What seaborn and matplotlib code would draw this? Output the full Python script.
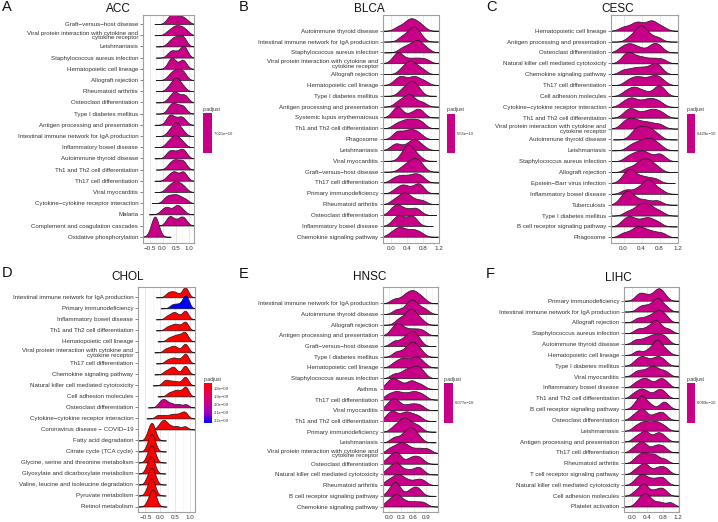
import numpy as np
import matplotlib
matplotlib.use("Agg")
import matplotlib.pyplot as plt
from matplotlib.colors import LinearSegmentedColormap, ListedColormap, Normalize
from matplotlib.cm import ScalarMappable
import seaborn as sns

# ---------------- data (core-gene values per pathway) ----------------
acc_terms = ["Graft−versus−host disease",
             "Viral protein interaction with cytokine and\ncytokine receptor",
             "Leishmaniasis", "Staphylococcus aureus infection", "Hematopoietic cell lineage",
             "Allograft rejection", "Rheumatoid arthritis", "Osteoclast differentiation",
             "Type I diabetes mellitus", "Antigen processing and presentation",
             "Intestinal immune network for IgA production", "Inflammatory bowel disease",
             "Autoimmune thyroid disease", "Th1 and Th2 cell differentiation",
             "Th17 cell differentiation", "Viral myocarditis",
             "Cytokine−cytokine receptor interaction", "Malaria",
             "Complement and coagulation cascades", "Oxidative phosphorylation"]
acc_values = [[0.25, 0.35, 0.4, 0.45, 0.55, 0.65, 0.75, 0.8, 0.95],
              [0.25, 0.4, 0.5, 0.55, 0.65, 0.75, 0.8, 0.95],
              [0.3, 0.45, 0.52, 0.6, 0.75, 0.8, 0.85],
              [0.3, 0.4, 0.5, 0.65, 0.78, 0.82, 0.85, 0.9],
              [0.3, 0.38, 0.42, 0.5, 0.72, 0.8, 0.85],
              [0.3, 0.45, 0.5, 0.6, 0.7, 0.78, 0.85],
              [0.3, 0.45, 0.52, 0.58, 0.65, 0.8],
              [0.3, 0.45, 0.5, 0.55, 0.7, 0.85, 0.9],
              [0.3, 0.38, 0.45, 0.55, 0.65, 0.78, 0.85],
              [0.25, 0.32, 0.38, 0.5, 0.65, 0.75, 0.85],
              [0.3, 0.45, 0.52, 0.58, 0.65, 0.8],
              [0.25, 0.4, 0.5, 0.55, 0.65, 0.8],
              [0.25, 0.35, 0.45, 0.6, 0.72, 0.8, 0.88],
              [0.3, 0.45, 0.52, 0.65, 0.78, 0.85],
              [0.25, 0.4, 0.48, 0.55, 0.75, 0.8, 0.88],
              [0.25, 0.4, 0.5, 0.6, 0.7, 0.85],
              [0.15, 0.25, 0.35, 0.45, 0.55, 0.62, 0.75, 0.9],
              [0.05, 0.2, 0.28, 0.5, 0.58, 0.65, 0.8],
              [0.25, 0.32, 0.38, 0.55, 0.72, 0.78, 0.88],
              [-0.32, -0.26, -0.22, -0.2, -0.17, -0.12]]
acc_padj = 7.021e-10
acc_padj_label = "7.021e−10"

blca_terms = ["Autoimmune thyroid disease", "Intestinal immune network for IgA production",
              "Staphylococcus aureus infection",
              "Viral protein interaction with cytokine and\ncytokine receptor",
              "Allograft rejection", "Hematopoietic cell lineage", "Type I diabetes mellitus",
              "Antigen processing and presentation", "Systemic lupus erythematosus",
              "Th1 and Th2 cell differentiation", "Phagosome", "Leishmaniasis",
              "Viral myocarditis", "Graft−versus−host disease", "Th17 cell differentiation",
              "Primary immunodeficiency", "Rheumatoid arthritis", "Osteoclast differentiation",
              "Inflammatory bowel disease", "Chemokine signaling pathway"]
blca_values = [[0.2, 0.35, 0.45, 0.5, 0.55, 0.62, 0.7, 0.8],
               [0.3, 0.45, 0.55, 0.6, 0.65, 0.75],
               [0.3, 0.45, 0.55, 0.65, 0.7, 0.75, 0.9],
               [0.1, 0.2, 0.23, 0.26, 0.45, 0.6, 0.75, 0.9],
               [0.3, 0.42, 0.5, 0.55, 0.65, 0.8],
               [0.15, 0.28, 0.32, 0.5, 0.6, 0.68, 0.85],
               [0.3, 0.45, 0.52, 0.6, 0.7],
               [0.2, 0.35, 0.45, 0.5, 0.6, 0.8],
               [0.1, 0.18, 0.22, 0.25, 0.5, 0.65, 0.72, 0.78],
               [0.15, 0.3, 0.4, 0.5, 0.6, 0.7, 0.8],
               [0.15, 0.2, 0.35, 0.45, 0.55, 0.62, 0.75],
               [0.1, 0.2, 0.4, 0.55, 0.6, 0.65, 0.8],
               [0.3, 0.4, 0.45, 0.5, 0.55, 0.7],
               [0.3, 0.45, 0.5, 0.6, 0.65, 0.7, 0.8],
               [0.1, 0.25, 0.35, 0.5, 0.6, 0.7, 0.8],
               [0.15, 0.3, 0.35, 0.5, 0.65, 0.72, 0.78],
               [0.1, 0.25, 0.32, 0.4, 0.45, 0.6, 0.8],
               [0.05, 0.15, 0.2, 0.3, 0.45, 0.6, 0.7],
               [0.1, 0.2, 0.25, 0.35, 0.5, 0.55, 0.62],
               [0.05, 0.2, 0.25, 0.35, 0.5, 0.6, 0.75]]
blca_padj = 5.55e-10
blca_padj_label = "5.55e−10"

cesc_terms = ["Hematopoietic cell lineage", "Antigen processing and presentation",
              "Osteoclast differentiation", "Natural killer cell mediated cytotoxicity",
              "Chemokine signaling pathway", "Th17 cell differentiation",
              "Cell adhesion molecules", "Cytokine−cytokine receptor interaction",
              "Th1 and Th2 cell differentiation",
              "Viral protein interaction with cytokine and\ncytokine receptor",
              "Autoimmune thyroid disease", "Leishmaniasis", "Staphylococcus aureus infection",
              "Allograft rejection", "Epstein−Barr virus infection", "Inflammatory bowel disease",
              "Tuberculosis", "Type I diabetes mellitus", "B cell receptor signaling pathway",
              "Phagosome"]
cesc_values = [[0.0, 0.2, 0.3, 0.38, 0.55, 0.62, 0.68, 0.85],
               [0.15, 0.3, 0.35, 0.4, 0.45, 0.55, 0.75],
               [-0.05, 0.1, 0.18, 0.35, 0.6, 0.7, 0.8],
               [0.0, 0.1, 0.15, 0.3, 0.45, 0.65, 0.85],
               [0.0, 0.2, 0.35, 0.5, 0.65, 0.72, 0.8],
               [0.1, 0.25, 0.35, 0.5, 0.65, 0.72, 0.85],
               [0.05, 0.2, 0.28, 0.45, 0.7, 0.8, 0.85],
               [0.0, 0.15, 0.22, 0.4, 0.55, 0.65, 0.8],
               [0.05, 0.15, 0.25, 0.45, 0.6, 0.7, 0.85],
               [0.0, 0.1, 0.2, 0.3, 0.45, 0.6, 0.8],
               [0.2, 0.3, 0.36, 0.45, 0.55, 0.6, 0.75],
               [0.15, 0.3, 0.4, 0.5, 0.6, 0.65, 0.8],
               [0.1, 0.25, 0.35, 0.45, 0.55, 0.75, 0.85],
               [0.1, 0.3, 0.38, 0.45, 0.55, 0.6, 0.75],
               [0.0, 0.1, 0.15, 0.2, 0.35, 0.5, 0.7],
               [0.05, 0.3, 0.45, 0.52, 0.58, 0.62, 0.8],
               [-0.05, 0.05, 0.1, 0.15, 0.3, 0.5, 0.75],
               [0.1, 0.3, 0.36, 0.45, 0.55, 0.62, 0.8],
               [0.0, 0.12, 0.18, 0.35, 0.5, 0.58, 0.75],
               [0.0, 0.2, 0.3, 0.38, 0.5, 0.65, 0.85]]
cesc_padj = 6.429e-10
cesc_padj_label = "6.429e−10"

chol_terms = ["Intestinal immune network for IgA production", "Primary immunodeficiency",
              "Inflammatory bowel disease", "Th1 and Th2 cell differentiation",
              "Hematopoietic cell lineage",
              "Viral protein interaction with cytokine and\ncytokine receptor",
              "Th17 cell differentiation", "Chemokine signaling pathway",
              "Natural killer cell mediated cytotoxicity", "Cell adhesion molecules",
              "Osteoclast differentiation", "Cytokine−cytokine receptor interaction",
              "Coronavirus disease − COVID−19", "Fatty acid degradation",
              "Citrate cycle (TCA cycle)", "Glycine, serine and threonine metabolism",
              "Glyoxylate and dicarboxylate metabolism",
              "Valine, leucine and isoleucine degradation", "Pyruvate metabolism",
              "Retinol metabolism"]
chol_values = [[0.3, 0.4, 0.5, 0.6, 0.8, 0.85, 0.88, 0.9],
               [0.45, 0.6, 0.75, 0.85, 0.88, 0.9, 0.92],
               [0.3, 0.45, 0.52, 0.62, 0.8, 0.87, 0.9],
               [0.3, 0.45, 0.55, 0.65, 0.8, 0.87, 0.9],
               [0.35, 0.5, 0.6, 0.7, 0.8, 0.86, 0.9],
               [0.25, 0.4, 0.5, 0.6, 0.8, 0.87, 0.9],
               [0.3, 0.45, 0.55, 0.7, 0.85, 0.88, 0.9],
               [0.25, 0.4, 0.48, 0.55, 0.8, 0.87, 0.9],
               [0.2, 0.3, 0.45, 0.6, 0.8, 0.87, 0.9],
               [0.35, 0.5, 0.6, 0.7, 0.85, 0.88, 0.9],
               [0.05, 0.15, 0.2, 0.3, 0.45, 0.65, 0.88],
               [0.0, 0.2, 0.4, 0.55, 0.7, 0.82, 0.88],
               [0.05, 0.15, 0.2, 0.25, 0.4, 0.6, 0.85],
               [-0.3, -0.25, -0.2, -0.18, -0.15, -0.1],
               [-0.3, -0.25, -0.22, -0.18, -0.15, -0.1],
               [-0.32, -0.25, -0.22, -0.18, -0.15, -0.1],
               [-0.33, -0.27, -0.23, -0.2, -0.16, -0.12],
               [-0.32, -0.25, -0.22, -0.18, -0.14, -0.1],
               [-0.32, -0.26, -0.22, -0.19, -0.15, -0.11],
               [-0.3, -0.22, -0.18, -0.15, -0.12, -0.08]]
chol_padj = [1.73e-09, 2.23e-09, 1.73e-09, 1.73e-09, 1.73e-09, 1.73e-09, 1.73e-09,
             1.73e-09, 1.73e-09, 1.73e-09, 1.98e-09, 1.73e-09, 1.74e-09, 1.73e-09,
             1.73e-09, 1.73e-09, 1.73e-09, 1.73e-09, 1.73e-09, 1.73e-09]
chol_ticks = [1.8e-09, 1.9e-09, 2.0e-09, 2.1e-09, 2.2e-09]
chol_tick_labels = ["1.8e−09", "1.9e−09", "2.0e−09", "2.1e−09", "2.2e−09"]

hnsc_terms = ["Intestinal immune network for IgA production", "Autoimmune thyroid disease",
              "Allograft rejection", "Antigen processing and presentation",
              "Graft−versus−host disease", "Type I diabetes mellitus",
              "Hematopoietic cell lineage", "Staphylococcus aureus infection", "Asthma",
              "Th17 cell differentiation", "Viral myocarditis",
              "Th1 and Th2 cell differentiation", "Primary immunodeficiency", "Leishmaniasis",
              "Viral protein interaction with cytokine and\ncytokine receptor",
              "Osteoclast differentiation", "Natural killer cell mediated cytotoxicity",
              "Rheumatoid arthritis", "B cell receptor signaling pathway",
              "Chemokine signaling pathway"]
hnsc_values = [[0.2, 0.4, 0.5, 0.58, 0.65, 0.72, 0.85],
               [0.25, 0.45, 0.55, 0.6, 0.65, 0.75, 0.9],
               [0.3, 0.45, 0.55, 0.6, 0.65, 0.8],
               [0.15, 0.25, 0.3, 0.4, 0.55, 0.7, 0.85],
               [0.2, 0.4, 0.52, 0.6, 0.65, 0.75],
               [0.25, 0.45, 0.55, 0.62, 0.68, 0.8],
               [0.2, 0.35, 0.42, 0.55, 0.68, 0.72, 0.85],
               [0.2, 0.4, 0.5, 0.6, 0.7, 0.75, 0.85],
               [0.05, 0.15, 0.22, 0.35, 0.55, 0.62, 0.8],
               [0.05, 0.2, 0.3, 0.45, 0.6, 0.7, 0.85],
               [0.05, 0.15, 0.22, 0.3, 0.5, 0.65, 0.8],
               [0.05, 0.15, 0.22, 0.4, 0.48, 0.6, 0.75],
               [0.2, 0.35, 0.42, 0.48, 0.6, 0.75],
               [0.2, 0.4, 0.5, 0.58, 0.62, 0.75],
               [0.1, 0.25, 0.35, 0.42, 0.55, 0.75, 0.95],
               [0.05, 0.18, 0.25, 0.3, 0.55, 0.68, 0.8],
               [0.05, 0.18, 0.25, 0.3, 0.5, 0.7, 0.8],
               [0.05, 0.2, 0.28, 0.35, 0.5, 0.7, 0.85],
               [0.1, 0.2, 0.24, 0.28, 0.55, 0.68, 0.75],
               [0.05, 0.18, 0.25, 0.3, 0.45, 0.65, 0.85]]
hnsc_padj = 6.077e-10
hnsc_padj_label = "6.077e−10"

lihc_terms = ["Primary immunodeficiency", "Intestinal immune network for IgA production",
              "Allograft rejection", "Staphylococcus aureus infection",
              "Autoimmune thyroid disease", "Hematopoietic cell lineage",
              "Type I diabetes mellitus", "Viral myocarditis", "Inflammatory bowel disease",
              "Th1 and Th2 cell differentiation", "B cell receptor signaling pathway",
              "Osteoclast differentiation", "Leishmaniasis",
              "Antigen processing and presentation", "Th17 cell differentiation",
              "Rheumatoid arthritis", "T cell receptor signaling pathway",
              "Natural killer cell mediated cytotoxicity", "Cell adhesion molecules",
              "Platelet activation"]
lihc_values = [[0.2, 0.3, 0.45, 0.62, 0.7, 0.75, 0.85],
               [0.25, 0.4, 0.55, 0.65, 0.7, 0.75, 0.9],
               [0.2, 0.4, 0.55, 0.65, 0.72, 0.8, 0.9],
               [0.2, 0.4, 0.55, 0.62, 0.68, 0.75, 0.95],
               [0.15, 0.35, 0.5, 0.6, 0.7, 0.8, 0.9],
               [0.2, 0.45, 0.6, 0.66, 0.7, 0.75, 0.9],
               [0.15, 0.28, 0.35, 0.5, 0.65, 0.72, 0.85],
               [0.15, 0.3, 0.45, 0.55, 0.62, 0.75, 0.9],
               [0.15, 0.3, 0.38, 0.5, 0.7, 0.78, 0.9],
               [0.1, 0.25, 0.32, 0.45, 0.65, 0.75, 0.85],
               [0.15, 0.25, 0.3, 0.35, 0.5, 0.8, 0.9],
               [0.1, 0.25, 0.3, 0.38, 0.6, 0.75, 0.85],
               [0.15, 0.3, 0.38, 0.5, 0.62, 0.7, 0.85],
               [0.15, 0.3, 0.38, 0.45, 0.65, 0.72, 0.85],
               [0.1, 0.25, 0.3, 0.4, 0.6, 0.72, 0.85],
               [0.15, 0.28, 0.35, 0.45, 0.58, 0.65, 0.85],
               [0.15, 0.3, 0.36, 0.45, 0.65, 0.78, 0.9],
               [0.15, 0.28, 0.32, 0.45, 0.6, 0.75, 0.85],
               [0.15, 0.3, 0.35, 0.4, 0.6, 0.75, 0.85],
               [0.2, 0.32, 0.38, 0.42, 0.55, 0.75, 1.0]]
lihc_padj = 6.089e-10
lihc_padj_label = "6.089e−10"

# ---------------- style / layout ----------------
sns.set_style("white")
plt.rcParams["font.family"] = ["Liberation Sans", "DejaVu Sans"]

W, H = 718, 522
fig = plt.figure(figsize=(W / 100, H / 100), dpi=100)

# p.adjust colour scale (red -> blue through Lab-like magenta)
padj_cmap = LinearSegmentedColormap.from_list(
    "padj", ["#FF0000", "#E8004F", "#C80088", "#9A00C2", "#0000FF"])
MID_COLOR = "#C80088"


def px_rect(x0, y0, x1, y1):
    # pixel box (top-left origin) -> figure fraction rect
    return [x0 / W, 1 - y1 / H, (x1 - x0) / W, (y1 - y0) / H]


def ridge_panel(terms, values, fills, lay):
    x0, top, x1, bottom = lay["box"]
    yt, yb = lay["rows"]
    n = len(terms)
    s = (yb - yt) / (n - 1)

    bg = fig.add_axes(px_rect(x0, top, x1, bottom))
    bg.set_xlim(lay["xlim"])
    bg.set_ylim(-(bottom - yb) / s, n - 1 + (yt - top) / s)
    ticks = lay["xticks"]
    bg.set_xticks(ticks)
    step = ticks[1] - ticks[0]
    bg.set_xticks(np.arange(ticks[0] - step / 2, lay["xlim"][1], step), minor=True)
    bg.set_yticks(np.arange(n)[::-1])
    bg.set_yticklabels(terms, fontsize=4.4, color="#333333", linespacing=0.95)
    bg.tick_params(axis="x", which="major", labelsize=4.5, labelcolor="#333333",
                   length=1.3, width=0.5, color="#555555", pad=0.8)
    bg.tick_params(axis="x", which="minor", length=0)
    bg.tick_params(axis="y", length=2, width=0.5, color="#555555", pad=1.5, left=True)
    bg.grid(which="major", axis="x", color="#E5E5E5", lw=0.6)
    bg.grid(which="minor", axis="x", color="#F2F2F2", lw=0.4)
    bg.grid(axis="y", visible=False)
    for sp in bg.spines.values():
        sp.set_visible(False)

    # one transparent axes per ridge, lower ridges drawn over upper ones
    ridges = []
    for i, (vals, col) in enumerate(zip(values, fills)):
        base = yt + i * s
        rax = fig.add_axes(px_rect(x0, base - lay["scale"] * s, x1, base))
        rax.axhline(0, color="#7A7A7A", lw=0.5, zorder=1)
        sns.kdeplot(x=vals, ax=rax, fill=True, color=col, alpha=1,
                    edgecolor="#1A1A1A", linewidth=0.5, cut=4, zorder=2,
                    bw_method=lay["bw"] / np.std(vals, ddof=1))
        rax.set_xlim(lay["xlim"])
        rax.set_axis_off()
        ridges.append(rax)
    gmax = max(r.collections[-1].get_paths()[0].vertices[:, 1].max() for r in ridges)
    for r in ridges:
        r.set_ylim(0, gmax)
        for c in r.collections:
            c.set_clip_path(bg.patch)

    frame = fig.add_axes(px_rect(x0, top, x1, bottom))
    frame.set_facecolor("none")
    frame.set_xticks([])
    frame.set_yticks([])
    for sp in frame.spines.values():
        sp.set_color("#A0A0A0")
        sp.set_linewidth(0.8)

    fig.text(lay["title_xy"][0] / W, 1 - lay["title_xy"][1] / H, lay["title"],
             ha="center", va="center", fontsize=8.5, color="#111111")
    fig.text(lay["letter_xy"][0] / W, 1 - lay["letter_xy"][1] / H, lay["letter"],
             ha="left", va="center", fontsize=10.5, color="#111111")


def padj_bar(lay, cmap, norm, ticks, labels):
    cx0, ct, cx1, cb = lay["cbar"]
    cax = fig.add_axes(px_rect(cx0, ct, cx1, cb))
    cbar = fig.colorbar(ScalarMappable(norm=norm, cmap=cmap), cax=cax, ticks=ticks)
    cbar.outline.set_visible(False)
    cax.set_yticklabels(labels)
    cax.invert_yaxis()
    cax.minorticks_off()
    cax.tick_params(which="both", direction="in", length=1.5, width=0.4, color="white",
                    labelsize=3, labelcolor="#333333", left=True, right=True, pad=1.5)
    fig.text(cx0 / W, 1 - (ct - 1.5) / H, "p.adjust", fontsize=3.6, color="#333333",
             ha="left", va="bottom")


panels = [
    dict(letter="A", title="ACC", box=(143, 15, 194, 243), rows=(24, 236.7),
         xlim=(-0.64, 1.20), xticks=[-0.5, 0.0, 0.5, 1.0], bw=0.12, scale=1.8,
         title_xy=(118, 9), letter_xy=(1.5, 7), cbar=(203, 113, 212, 153)),
    dict(letter="B", title="BLCA", box=(383, 15, 439, 243), rows=(30.7, 236.7),
         xlim=(-0.16, 1.21), xticks=[0.0, 0.4, 0.8, 1.2], bw=0.11, scale=1.5,
         title_xy=(369, 9), letter_xy=(239, 7), cbar=(447, 114, 455, 153)),
    dict(letter="C", title="CESC", box=(611, 15, 678, 243), rows=(30.7, 237.3),
         xlim=(-0.28, 1.21), xticks=[0.0, 0.4, 0.8, 1.2], bw=0.11, scale=1.5,
         title_xy=(618, 9), letter_xy=(486, 7), cbar=(687, 114, 695, 153)),
    dict(letter="D", title="CHOL", box=(138, 287, 195, 512), rows=(297.3, 506.5),
         xlim=(-0.62, 1.17), xticks=[-0.5, 0.0, 0.5, 1.0], bw=0.09, scale=1.6,
         title_xy=(128, 277.5), letter_xy=(1.5, 273), cbar=(204, 383, 212, 423)),
    dict(letter="E", title="HNSC", box=(383, 287, 438, 512), rows=(303.3, 506.5),
         xlim=(-0.06, 1.2), xticks=[0.0, 0.3, 0.6, 0.9], bw=0.1, scale=1.5,
         title_xy=(369.5, 277.5), letter_xy=(239, 274), cbar=(444, 383, 453, 423)),
    dict(letter="F", title="LIHC", box=(624, 287, 679, 512), rows=(300.7, 506.5),
         xlim=(-0.14, 1.22), xticks=[0.0, 0.4, 0.8, 1.2], bw=0.1, scale=1.4,
         title_xy=(618.5, 278), letter_xy=(486, 274), cbar=(687, 383, 695, 423)),
]

single = [(acc_terms, acc_values, acc_padj, acc_padj_label),
          (blca_terms, blca_values, blca_padj, blca_padj_label),
          (cesc_terms, cesc_values, cesc_padj, cesc_padj_label),
          None,
          (hnsc_terms, hnsc_values, hnsc_padj, hnsc_padj_label),
          (lihc_terms, lihc_values, lihc_padj, lihc_padj_label)]

for lay, item in zip(panels, single):
    if item is None:
        norm = Normalize(min(chol_padj), max(chol_padj))
        fills = [padj_cmap(norm(p)) for p in chol_padj]
        ridge_panel(chol_terms, chol_values, fills, lay)
        padj_bar(lay, padj_cmap, norm, chol_ticks, chol_tick_labels)
    else:
        terms, values, p, label = item
        ridge_panel(terms, values, [MID_COLOR] * len(terms), lay)
        padj_bar(lay, ListedColormap([MID_COLOR]), Normalize(p * 0.999, p * 1.001),
                 [p], [label])

fig.savefig("out.png", dpi=100)
